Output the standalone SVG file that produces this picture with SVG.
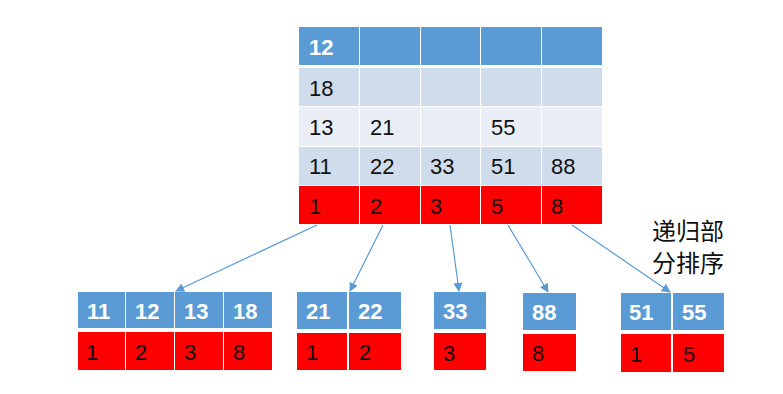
<svg xmlns="http://www.w3.org/2000/svg" width="783" height="394" viewBox="0 0 783 394">
<style>
.h{fill:#5B9BD5}
.a{fill:#CFDCEC}
.b{fill:#E9EEF7}
.r{fill:#FF0000}
.t{font-family:"Liberation Sans","Noto Sans",sans-serif;font-size:22px;fill:#111}
.w{font-family:"Liberation Sans","Noto Sans",sans-serif;font-size:22px;font-weight:bold;fill:#fff}
.c{font-family:"Noto Sans CJK SC",sans-serif;font-size:24px;fill:#111}
.ln{stroke:#5B9BD5;stroke-width:1.2;fill:none;marker-end:url(#ah)}
</style>
<defs>
<marker id="ah" viewBox="0 0 10 10" refX="9" refY="5" markerWidth="9" markerHeight="9" markerUnits="userSpaceOnUse" orient="auto">
<path d="M0,0 L10,5 L0,10 Z" fill="#5B9BD5"/>
</marker>
</defs>
<rect width="783" height="394" fill="#fff"/>
<g id="top">
<rect class="h" x="299" y="27" width="60" height="38"/><rect class="h" x="360" y="27" width="60" height="38"/><rect class="h" x="421" y="27" width="59" height="38"/><rect class="h" x="481" y="27" width="60" height="38"/><rect class="h" x="542" y="27" width="60" height="38"/>
<rect class="a" x="299" y="68" width="60" height="38"/><rect class="a" x="360" y="68" width="60" height="38"/><rect class="a" x="421" y="68" width="59" height="38"/><rect class="a" x="481" y="68" width="60" height="38"/><rect class="a" x="542" y="68" width="60" height="38"/>
<rect class="b" x="299" y="107" width="60" height="39"/><rect class="b" x="360" y="107" width="60" height="39"/><rect class="b" x="421" y="107" width="59" height="39"/><rect class="b" x="481" y="107" width="60" height="39"/><rect class="b" x="542" y="107" width="60" height="39"/>
<rect class="a" x="299" y="147" width="60" height="38"/><rect class="a" x="360" y="147" width="60" height="38"/><rect class="a" x="421" y="147" width="59" height="38"/><rect class="a" x="481" y="147" width="60" height="38"/><rect class="a" x="542" y="147" width="60" height="38"/>
<rect class="r" x="299" y="186" width="60" height="38"/><rect class="r" x="360" y="186" width="60" height="38"/><rect class="r" x="421" y="186" width="59" height="38"/><rect class="r" x="481" y="186" width="60" height="38"/><rect class="r" x="542" y="186" width="60" height="38"/>
<text class="w" x="309" y="55">12</text>
<text class="t" x="309" y="96">18</text>
<text class="t" x="309" y="135">13</text><text class="t" x="370" y="135">21</text><text class="t" x="491" y="135">55</text>
<text class="t" x="309" y="174">11</text><text class="t" x="370" y="174">22</text><text class="t" x="430" y="174">33</text><text class="t" x="491" y="174">51</text><text class="t" x="551" y="174">88</text>
<text class="t" x="309" y="214">1</text><text class="t" x="370" y="214">2</text><text class="t" x="430" y="214">3</text><text class="t" x="491" y="214">5</text><text class="t" x="551" y="214">8</text>
</g>
<g id="g1">
<rect class="h" x="78" y="292" width="47" height="36"/><rect class="h" x="126" y="292" width="48" height="36"/><rect class="h" x="175" y="292" width="48" height="36"/><rect class="h" x="224" y="292" width="48" height="36"/>
<rect class="r" x="78" y="332" width="47" height="38"/><rect class="r" x="126" y="332" width="48" height="38"/><rect class="r" x="175" y="332" width="48" height="38"/><rect class="r" x="224" y="332" width="48" height="38"/>
<text class="w" x="87" y="319">11</text><text class="w" x="135" y="319">12</text><text class="w" x="184" y="319">13</text><text class="w" x="233" y="319">18</text>
<text class="t" x="86" y="360">1</text><text class="t" x="135" y="360">2</text><text class="t" x="184" y="360">3</text><text class="t" x="233" y="360">8</text>
</g>
<g id="g2">
<rect class="h" x="297" y="292" width="50" height="37"/><rect class="h" x="349" y="292" width="52" height="37"/>
<rect class="r" x="297" y="333" width="50" height="37"/><rect class="r" x="349" y="333" width="52" height="37"/>
<text class="w" x="306" y="319">21</text><text class="w" x="358" y="319">22</text>
<text class="t" x="306" y="360">1</text><text class="t" x="359" y="360">2</text>
</g>
<g id="g3">
<rect class="h" x="434" y="292" width="52" height="37"/>
<rect class="r" x="434" y="333" width="52" height="37"/>
<text class="w" x="443" y="319">33</text>
<text class="t" x="443" y="361">3</text>
</g>
<g id="g4">
<rect class="h" x="523" y="293" width="53" height="37"/>
<rect class="r" x="523" y="334" width="53" height="37"/>
<text class="w" x="532" y="320">88</text>
<text class="t" x="532" y="361">8</text>
</g>
<g id="g5">
<rect class="h" x="621" y="293" width="50" height="37"/><rect class="h" x="673" y="293" width="51" height="37"/>
<rect class="r" x="621" y="334" width="50" height="38"/><rect class="r" x="673" y="334" width="51" height="38"/>
<text class="w" x="629" y="320">51</text><text class="w" x="682" y="320">55</text>
<text class="t" x="630" y="362">1</text><text class="t" x="683" y="362">5</text>
</g>
<g id="label">
<text class="c" x="652" y="240">递归部</text>
<text class="c" x="652" y="272">分排序</text>
</g>
<g id="connectors">
<line class="ln" x1="317" y1="225" x2="176" y2="291"/>
<line class="ln" x1="383" y1="225" x2="350" y2="291"/>
<line class="ln" x1="450" y1="225" x2="459" y2="291"/>
<line class="ln" x1="508" y1="225" x2="548" y2="292"/>
<line class="ln" x1="572" y1="225" x2="670" y2="292"/>
</g>
</svg>
